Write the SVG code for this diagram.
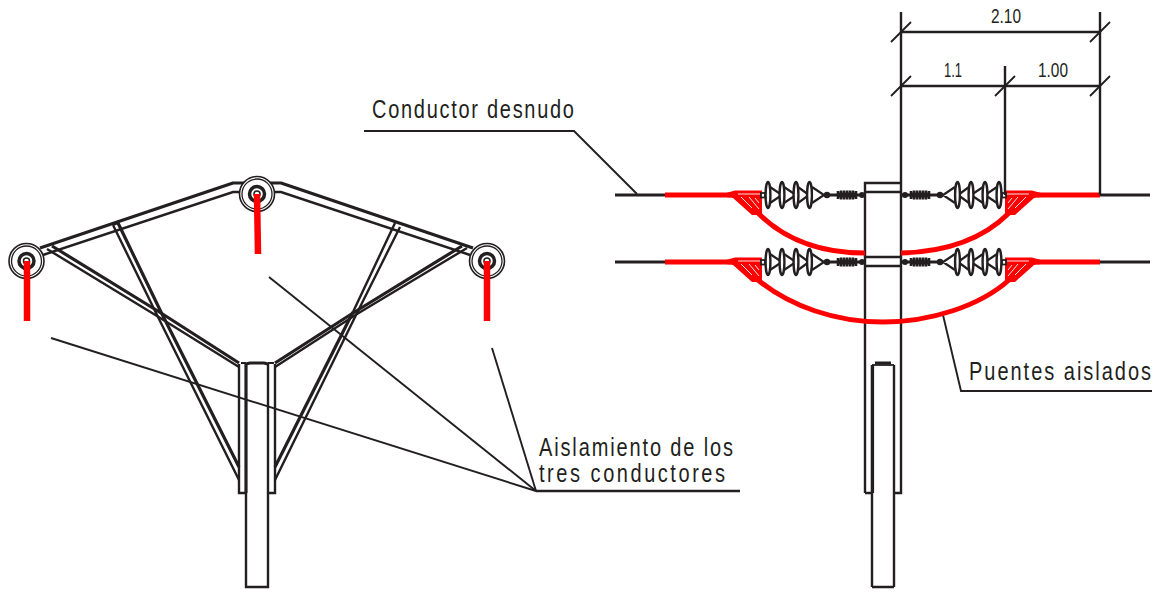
<svg xmlns="http://www.w3.org/2000/svg" xmlns:xlink="http://www.w3.org/1999/xlink" width="1160" height="592" viewBox="0 0 1160 592">
<style>
.k{fill:none;stroke:#231f20;stroke-width:1.8}
.m{fill:none;stroke:#231f20;stroke-width:2.4}
.b{fill:none;stroke:#231f20;stroke-width:3.2}
.l{fill:none;stroke:#231f20;stroke-width:1.9}
.t{font-family:"Liberation Sans",Arial,sans-serif;font-size:25px;fill:#231f20}
.d{font-family:"Liberation Sans",Arial,sans-serif;font-size:20px;fill:#231f20}
</style>
<defs>
<g id="pin">
<circle r="17.500" fill="#fff" stroke="#231f20" stroke-width="1.600"/>
<circle r="15" fill="none" stroke="#231f20" stroke-width="1.300"/>
<circle r="7.500" fill="none" stroke="#231f20" stroke-width="3.500"/>
<circle r="3" fill="none" stroke="#231f20" stroke-width="1.500"/>
</g>
<g id="ins">
<path d="M726,193 L735,190.500 H762 V215 H752 L733,198 L726,197 Z" fill="#ff0000"/>
<path d="M738,194 H760 M741,197 L752,208 M749,197 L759,209 M755,198 L759,203" stroke="#fff" stroke-width="0.900" fill="none"/>
<rect x="761" y="193" width="4" height="4.500" fill="#fff" stroke="#231f20" stroke-width="1.800"/>
<path class="k" style="stroke-width:2.200" d="M765,195 H768 M770,187 L782,195 L770,203 M784,187 L796,195 L784,203 M798,187 L809,195 L798,203 M812,187 L824,195 L812,203"/>
<g fill="#fff" stroke="#231f20" stroke-width="2.400">
<ellipse cx="768" cy="195" rx="2.400" ry="13"/>
<ellipse cx="782" cy="195" rx="2.400" ry="13"/>
<ellipse cx="796" cy="195" rx="2.400" ry="13"/>
<ellipse cx="809.500" cy="195" rx="2.400" ry="13"/>
</g>
<path class="b" d="M824,195 H865"/>
<circle cx="827" cy="195" r="3.200" fill="#231f20"/>
<path d="M837,195 H857" stroke="#231f20" stroke-width="5" fill="none"/>
<path d="M838,191 V199 M841,190.500 V199.500 M844,190.500 V199.500 M847,190.500 V199.500 M850,190.500 V199.500 M853,190.500 V199.500 M856,191 V199" stroke="#231f20" stroke-width="2.600" fill="none"/>
<circle cx="862" cy="195" r="3" fill="#231f20"/>
</g>
</defs>

<g id="connectors">
<path class="l" d="M51,338 L536,491"/>
<path class="l" d="M269,277 L536,491"/>
<path class="l" d="M492,348 L536,491"/>
<path class="m" d="M536,491 H740"/>
<path class="l" d="M364,131 H574 L637,194"/>
<path class="l" d="M943,315 L961,391 H1152"/>
</g>

<g id="left-structure">
<path class="b" d="M40,248 L233,183 H281 L473,248" stroke-linejoin="round"/>
<path class="m" d="M43,255 L233,192 H241 M273,192 H281 L470,255"/>
<path class="m" d="M113,225 L118,223 M113,225 L157,315 L239,480"/>
<path class="b" d="M118,223 L161,312 L239,467"/>
<path class="m" d="M395,223 L353,312 M400,227 L357,313 L275,480"/>
<path class="b" d="M353,312 L275,467"/>
<path class="b" d="M52,246 L161,313 L239,363"/>
<path class="m" d="M47,249 L157,316 L239,367"/>
<path class="b" d="M462,246 L353,313 L275,363"/>
<path class="m" d="M467,248 L357,314 L275,367"/>
<path class="m" d="M239,364 V493 H246 M275,364 V493 H268"/>
<path class="m" d="M246,493 V587 H268 V364"/>
<path class="b" d="M246,493 V364 L250,363 H264 L268,364"/>
<path class="k" d="M241,363 H246 M268,363 H274"/>
</g>

<g id="pin-left"><use xlink:href="#pin" href="#pin" x="26.500" y="261"/></g>
<g id="pin-center"><use xlink:href="#pin" href="#pin" x="257" y="194"/></g>
<g id="pin-right"><use xlink:href="#pin" href="#pin" x="487" y="261"/></g>
<g id="insulation-left"><path d="M27,261 V321" fill="none" stroke="#ff0000" stroke-width="6.500"/></g>
<g id="insulation-center"><path d="M257,194 L258,254" fill="none" stroke="#ff0000" stroke-width="6.500"/></g>
<g id="insulation-right"><path d="M487,261 V321" fill="none" stroke="#ff0000" stroke-width="6.500"/></g>

<g id="right-pole">
<path class="m" d="M865,493 V183 H901 M865,192 H901 M865,257 H901 M865,266 H901"/>
<path class="m" d="M865,493 H872 M901,12 V493 H894"/>
<path class="m" d="M872,587 V365 M894,587 V365 M872,587 H894"/>
<path class="b" d="M872.500,493 V365 M875,363 H891"/>
<path class="k" d="M872,365 H894"/>
</g>

<g id="conductors">
<path class="b" d="M615,195 H665 M615,262 H665 M1100,195 H1150 M1100,262 H1150"/>
<path d="M665,195 H730 M665,262 H730 M1037,195 H1100 M1037,262 H1100" stroke="#ff0000" stroke-width="5" fill="none"/>
</g>

<g id="insulators">
<use xlink:href="#ins" href="#ins"/>
<use xlink:href="#ins" href="#ins" y="67"/>
<use xlink:href="#ins" href="#ins" transform="translate(1767,0) scale(-1,1)"/>
<use xlink:href="#ins" href="#ins" transform="translate(1767,67) scale(-1,1)"/>
</g>

<g id="jumpers">
<path d="M758,213 C785,240 820,253 865,253" fill="none" stroke="#ff0000" stroke-width="5"/>
<path d="M901,253 C945,252 982,240 1009,213" fill="none" stroke="#ff0000" stroke-width="5"/>
<path d="M758,280 C790,306 835,322 883,322 C930,322 980,306 1009,280" fill="none" stroke="#ff0000" stroke-width="5"/>
</g>

<g id="dimensions">
<path class="m" d="M1100,12 V195 M1005,66 V195 M901,32 H1100 M901,86 H1100"/>
<path class="k" d="M891,42 L911,22 M1090,42 L1110,22 M891,96 L911,76 M995,96 L1015,76 M1090,96 L1110,76"/>
<text class="d" x="991" y="23" textLength="30" lengthAdjust="spacingAndGlyphs">2.10</text>
<text class="d" x="944" y="77" textLength="18" lengthAdjust="spacingAndGlyphs">1.1</text>
<text class="d" x="1038" y="77" textLength="30" lengthAdjust="spacingAndGlyphs">1.00</text>
</g>

<g id="labels">
<text class="t" transform="translate(372,118) scale(0.8,1)" textLength="252.500">Conductor desnudo</text>
<text class="t" transform="translate(969,380) scale(0.8,1)" textLength="227.500">Puentes aislados</text>
<text class="t" transform="translate(539,456) scale(0.8,1)" textLength="242.500">Aislamiento de los</text>
<text class="t" transform="translate(539,482) scale(0.8,1)" textLength="232.500">tres conductores</text>
</g>
</svg>
